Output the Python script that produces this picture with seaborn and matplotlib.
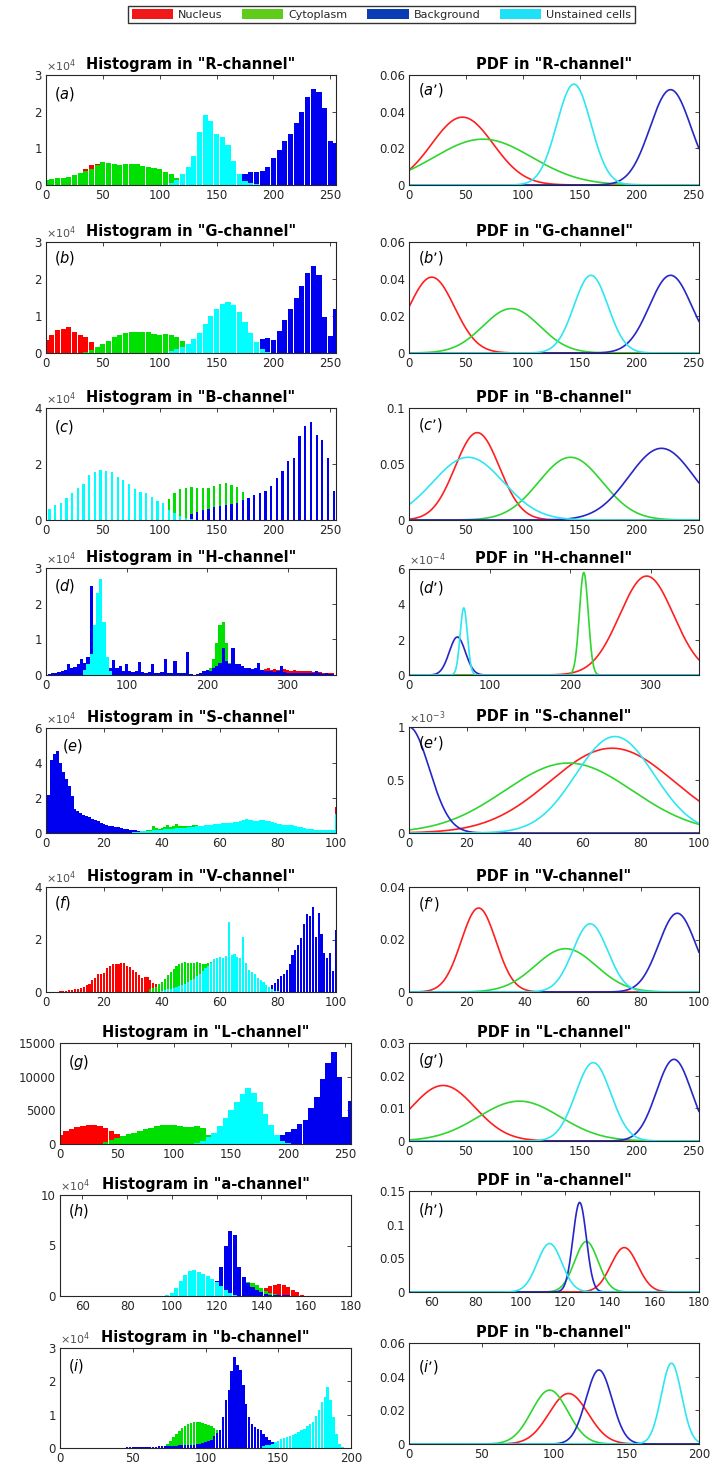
"""
colour-channel histograms and fitted PDFs for the four pixel classes
"""

import matplotlib

matplotlib.use("Agg")
import matplotlib.pyplot as plt
import numpy as np
import pandas as pd
import seaborn as sns
from matplotlib.patches import Patch

sns.set_style("white")
plt.rcParams["font.family"] = ["DejaVu Sans"]
plt.rcParams["mathtext.fontset"] = "dejavusans"

W, H = 713, 1469
INK = "#262626"

CLASSES = ["Nucleus", "Cytoplasm", "Background", "Unstained cells"]
HIST_COLORS = ["#ff0000", "#00e000", "#0000f0", "#00ffff"]
PDF_COLORS = ["#ff1f1f", "#2fd62f", "#2626c8", "#2ee6f2"]
LEGEND_COLORS = ["#f01818", "#5fcc1c", "#0a3cb4", "#1ee1f7"]

# ---- histogram data: (first bin centre, heights) per class, order = CLASSES
# R-channel, 5-wide bins, counts x1e4
R_nuc = (0, [0.1, 0.12, 0.15, 0.18, 0.2, 0.25, 0.32, 0.45, 0.55, 0.58, 0.55, 0.5, 0.45, 0.4,
             0.35, 0.3, 0.25, 0.2, 0.14, 0.08, 0.04, 0.02])
R_cyt = (0, [0.15, 0.16, 0.18, 0.2, 0.22, 0.28, 0.33, 0.38, 0.45, 0.55, 0.62, 0.6, 0.56, 0.55,
             0.57, 0.57, 0.56, 0.53, 0.5, 0.46, 0.43, 0.36, 0.29, 0.2, 0.1, 0.05, 0.02])
R_bg = (165, [0.05, 0.15, 0.3, 0.35, 0.35, 0.38, 0.5, 0.75, 0.95, 1.2, 1.4, 1.7, 2.0, 2.4,
              2.62, 2.55, 2.1, 1.2, 1.15])
R_un = (110, [0.05, 0.15, 0.3, 0.5, 0.8, 1.45, 1.9, 1.75, 1.4, 1.3, 1.1, 0.65, 0.3, 0.12,
              0.05, 0.02])

# G-channel, 5-wide bins, counts x1e4
G_nuc = (0, [0.34, 0.5, 0.61, 0.65, 0.7, 0.57, 0.5, 0.43, 0.3, 0.15, 0.07, 0.02])
G_cyt = (35, [0.03, 0.07, 0.15, 0.25, 0.32, 0.42, 0.5, 0.55, 0.57, 0.57, 0.58, 0.56, 0.52,
              0.5, 0.52, 0.5, 0.42, 0.33, 0.2, 0.1, 0.04])
G_bg = (180, [0.1, 0.3, 0.38, 0.4, 0.35, 0.6, 0.9, 1.2, 1.5, 1.8, 2.15, 2.35, 2.1, 0.97,
              0.45, 1.2])
G_un = (110, [0.05, 0.1, 0.15, 0.25, 0.38, 0.55, 0.78, 1.0, 1.2, 1.33, 1.38, 1.3, 1.12,
              0.85, 0.55, 0.3, 0.12, 0.04])

# B-channel, 5-wide bins, counts x1e4
B_nuc = (23, [0.1, 0.25, 0.4, 0.55, 0.75, 0.95, 1.1, 1.2, 1.25, 1.2, 1.1, 0.95, 0.75, 0.55,
              0.35, 0.2, 0.1])
B_cyt = (103, [0.3, 0.74, 0.95, 1.1, 1.15, 1.17, 1.15, 1.13, 1.15, 1.21, 1.29, 1.31, 1.25,
               1.19, 1.0, 0.8, 0.55, 0.3, 0.1])
B_bg = (128, [0.2, 0.3, 0.35, 0.4, 0.45, 0.5, 0.55, 0.58, 0.62, 0.7, 0.8, 0.9, 0.95, 1.05,
              1.2, 1.5, 1.75, 2.1, 2.2, 3.0, 3.35, 3.5, 3.05, 2.85, 2.2, 1.05, 1.5])
B_un = (3, [0.38, 0.54, 0.62, 0.77, 0.95, 1.13, 1.3, 1.6, 1.73, 1.8, 1.76, 1.7, 1.55, 1.43,
            1.3, 1.1, 1.0, 0.95, 0.83, 0.69, 0.6, 0.36, 0.24, 0.14, 0.08, 0.04])

# H-channel, 4-wide bins, counts x1e4
H_nuc = (244, [0.05, 0.08, 0.1, 0.12, 0.15, 0.2, 0.15, 0.18, 0.2, 0.15, 0.18, 0.15, 0.12,
               0.16, 0.15, 0.12, 0.14, 0.12, 0.1, 0.12, 0.1, 0.1, 0.08, 0.1, 0.08, 0.07,
               0.06, 0.05, 0.05])
H_cyt = (200, [0.1, 0.2, 0.45, 0.9, 1.4, 1.5, 0.9, 0.35, 0.1])
H_bg = (0, [0.0, 0.03, 0.05, 0.06, 0.08, 0.1, 0.15, 0.32, 0.2, 0.22, 0.3, 0.44, 0.35, 0.5,
            2.5, 1.0, 1.0, 1.0, 1.0, 0.4, 0.2, 0.42, 0.2, 0.26, 0.1, 0.32, 0.1, 0.08, 0.1,
            0.36, 0.08, 0.06, 0.08, 0.3, 0.06, 0.05, 0.08, 0.44, 0.06, 0.05, 0.4, 0.06,
            0.05, 0.05, 0.65, 0.02, 0.01, 0.02, 0.05, 0.1, 0.15, 0.12, 0.2, 0.25, 0.35,
            0.75, 0.4, 0.3, 0.77, 0.3, 0.32, 0.25, 0.2, 0.21, 0.18, 0.2, 0.35, 0.15, 0.12,
            0.1, 0.12, 0.08, 0.1, 0.26, 0.08, 0.07, 0.06, 0.06, 0.05, 0.06, 0.05, 0.05,
            0.05, 0.06, 0.12, 0.05, 0.04, 0.05, 0.04, 0.03])
H_un = (48, [0.15, 0.3, 0.6, 1.4, 2.3, 2.7, 1.5, 0.5, 0.1])

# S-channel, 1-wide bins, counts x1e4
S_nuc = (100, [1.5])
S_cyt = (32, [0.05, 0.08, 0.12, 0.15, 0.2, 0.38, 0.3, 0.25, 0.28, 0.32, 0.47, 0.35, 0.4,
              0.53, 0.42, 0.4, 0.38, 0.4, 0.42, 0.44, 0.47, 0.42, 0.4, 0.38, 0.35])
S_bg = (0, [2.1, 2.2, 4.2, 4.5, 4.7, 4.0, 3.5, 3.1, 2.7, 2.1, 1.4, 1.25, 1.15, 1.05, 1.0,
            0.9, 0.8, 0.72, 0.66, 0.58, 0.52, 0.46, 0.42, 0.38, 0.35, 0.32, 0.28, 0.25,
            0.23, 0.2, 0.18, 0.15, 0.12, 0.1, 0.07, 0.05])
S_un = (30, [0.05, 0.06, 0.08, 0.1, 0.11, 0.12, 0.13, 0.15, 0.16, 0.18, 0.2, 0.21, 0.22,
             0.24, 0.25, 0.27, 0.28, 0.3, 0.31, 0.33, 0.34, 0.36, 0.38, 0.4, 0.42, 0.43,
             0.45, 0.48, 0.5, 0.52, 0.53, 0.55, 0.57, 0.6, 0.6, 0.62, 0.65, 0.68, 0.72,
             0.81, 0.75, 0.72, 0.7, 0.68, 0.72, 0.75, 0.7, 0.66, 0.62, 0.58, 0.53, 0.5,
             0.48, 0.46, 0.44, 0.43, 0.4, 0.36, 0.32, 0.3, 0.25, 0.24, 0.22, 0.2, 0.2,
             0.19, 0.18, 0.17, 0.15, 0.16, 1.1])

# V-channel, 1-wide bins, counts x1e4
V_nuc = (5, [0.03, 0.04, 0.05, 0.06, 0.08, 0.1, 0.12, 0.15, 0.2, 0.25, 0.32, 0.45, 0.55,
             0.67, 0.7, 0.72, 0.9, 1.0, 1.05, 1.08, 1.08, 1.1, 1.1, 1.0, 0.95, 0.82, 0.75,
             0.63, 0.55, 0.58, 0.57, 0.45, 0.35, 0.3, 0.2, 0.12, 0.06, 0.03])
V_cyt = (36, [0.1, 0.15, 0.2, 0.3, 0.4, 0.5, 0.63, 0.75, 0.88, 1.0, 1.05, 1.1, 1.14, 1.12,
              1.1, 1.12, 1.14, 1.1, 1.08, 1.08, 1.1, 1.15, 1.2, 1.15, 1.1, 1.0, 0.8, 0.6,
              0.4, 0.2])
V_bg = (74, [0.05, 0.08, 0.12, 0.18, 0.25, 0.35, 0.5, 0.6, 0.7, 0.85, 1.08, 1.4, 1.6, 1.8,
             2.06, 2.6, 2.96, 2.9, 3.25, 2.1, 3.0, 2.2, 1.5, 1.3, 1.5, 0.8, 2.38])
V_un = (40, [0.05, 0.07, 0.1, 0.12, 0.15, 0.18, 0.22, 0.27, 0.32, 0.38, 0.45, 0.5, 0.6, 0.7,
             0.8, 0.9, 1.0, 1.1, 1.25, 1.3, 1.35, 1.3, 1.38, 2.65, 1.4, 1.45, 1.35, 1.3,
             2.1, 1.1, 0.82, 0.75, 0.7, 0.55, 0.45, 0.38, 0.28, 0.18, 0.1, 0.05, 0.02])

# L-channel, 5-wide bins, raw counts
L_nuc = (0, [1300, 1900, 2200, 2500, 2700, 2800, 2850, 2700, 2400, 1900, 1500, 900, 300, 100])
L_cyt = (40, [300, 600, 900, 1200, 1450, 1700, 2000, 2300, 2450, 2600, 2750, 2850, 2750,
              2650, 2550, 2500, 2600, 2400, 1300, 300])
L_bg = (180, [300, 700, 1000, 1400, 1850, 2200, 3000, 3600, 5300, 7000, 9700, 12000, 13600,
              10000, 4000, 6400])
L_un = (120, [200, 500, 1000, 1700, 2700, 3800, 5000, 6300, 7500, 8300, 7600, 6200, 4500,
              2800, 1300, 400, 100])

# a-channel, 2-wide bins, counts x1e4
A_nuc = (134, [0.1, 0.3, 0.5, 0.65, 0.8, 1.0, 1.1, 1.15, 1.05, 0.9, 0.6, 0.35, 0.12, 0.03])
A_cyt = (120, [0.2, 0.4, 0.7, 0.9, 1.1, 1.3, 1.4, 1.4, 1.3, 1.1, 0.8, 0.5, 0.3, 0.15, 0.05])
A_bg = (114, [0.3, 0.6, 0.9, 1.5, 2.9, 5.0, 6.4, 6.0, 2.9, 1.9, 1.3, 0.9, 0.6, 0.4, 0.2,
              0.1, 0.08, 0.06, 0.05, 0.05, 0.04, 0.04, 0.03, 0.03, 0.03, 0.02, 0.02, 0.02,
              0.02, 0.02, 0.01])
A_un = (98, [0.1, 0.3, 0.8, 1.5, 2.1, 2.5, 2.6, 2.4, 2.2, 2.0, 1.7, 1.4, 1.0, 0.6, 0.3, 0.1])

# b-channel, 2-wide bins, counts x1e4
Bb_nuc = (96, [0.1, 0.15, 0.2, 0.25, 0.3, 0.36, 0.42, 0.46, 0.48, 0.48, 0.46, 0.43, 0.4,
               0.35, 0.3, 0.25, 0.2, 0.15, 0.1])
Bb_cyt = (72, [0.05, 0.12, 0.2, 0.32, 0.43, 0.52, 0.6, 0.66, 0.72, 0.75, 0.78, 0.78, 0.77,
               0.75, 0.73, 0.7, 0.65, 0.6, 0.55, 0.48, 0.4, 0.3, 0.2, 0.1, 0.05])
Bb_bg = (46, [0.02, 0.02, 0.02, 0.02, 0.03, 0.03, 0.03, 0.03, 0.04, 0.04, 0.04, 0.05, 0.05,
              0.05, 0.06, 0.06, 0.07, 0.07, 0.08, 0.08, 0.09, 0.09, 0.1, 0.1, 0.11, 0.12,
              0.14, 0.17, 0.2, 0.25, 0.35, 0.45, 0.53, 0.93, 1.43, 1.73, 2.3, 2.73, 2.48,
              2.33, 1.88, 1.33, 0.93, 0.73, 0.63, 0.58, 0.53, 0.43, 0.33, 0.25, 0.18, 0.08,
              0.03])
Bb_un = (140, [0.05, 0.08, 0.1, 0.13, 0.18, 0.22, 0.26, 0.3, 0.33, 0.36, 0.4, 0.43, 0.48,
               0.53, 0.58, 0.65, 0.72, 0.78, 0.95, 1.13, 1.38, 1.53, 1.83, 1.43, 0.93, 0.43,
               0.13, 0.03])

# ---- PDF data: Gaussian mean, sd, peak height per class, order = CLASSES
R_mu, R_sd, R_pk = [47, 65, 230, 145], [27, 43, 18, 15], [0.037, 0.025, 0.052, 0.055]
G_mu, G_sd, G_pk = [20, 90, 230, 160], [20, 25, 18.6, 15], [0.041, 0.024, 0.042, 0.042]
B_mu, B_sd, B_pk = [60, 142, 222, 52], [19.5, 28, 28.7, 31], [0.078, 0.056, 0.064, 0.056]
H_mu, H_sd, H_pk = [295, 217, 60, 68], [33.5, 5.5, 10, 4.5], [5.6, 5.8, 2.15, 3.8]  # x1e-4
S_mu, S_sd, S_pk = [70, 55, 0, 71], [21.5, 22, 7, 13.5], [0.8, 0.66, 1.0, 0.91]  # x1e-3
V_mu, V_sd, V_pk = [24, 54, 92.5, 62.5], [6, 10.5, 6.4, 6], [0.032, 0.0165, 0.030, 0.026]
L_mu, L_sd, L_pk = [30, 97, 233, 162], [28, 36, 15.4, 15.5], [0.017, 0.0122, 0.025, 0.024]
A_mu, A_sd, A_pk = [146.5, 129.5, 126.5, 113], [6, 5.3, 3, 5.5], [0.066, 0.075, 0.133, 0.072]
Bb_mu, Bb_sd, Bb_pk = [110, 97, 131, 181], [13.5, 12.5, 9, 7], [0.030, 0.032, 0.044, 0.048]

# ---- panel options
channels = ["R", "G", "B", "H", "S", "V", "L", "a", "b"]
letters = list("abcdefghi")
hist_series = [
    (R_nuc, R_cyt, R_bg, R_un), (G_nuc, G_cyt, G_bg, G_un), (B_nuc, B_cyt, B_bg, B_un),
    (H_nuc, H_cyt, H_bg, H_un), (S_nuc, S_cyt, S_bg, S_un), (V_nuc, V_cyt, V_bg, V_un),
    (L_nuc, L_cyt, L_bg, L_un), (A_nuc, A_cyt, A_bg, A_un), (Bb_nuc, Bb_cyt, Bb_bg, Bb_un),
]
pdf_params = [
    (R_mu, R_sd, R_pk), (G_mu, G_sd, G_pk), (B_mu, B_sd, B_pk), (H_mu, H_sd, H_pk),
    (S_mu, S_sd, S_pk), (V_mu, V_sd, V_pk), (L_mu, L_sd, L_pk), (A_mu, A_sd, A_pk),
    (Bb_mu, Bb_sd, Bb_pk),
]
bin_step = [5, 5, 5, 4, 1, 1, 5, 2, 2]
bar_shrink = [0.9, 0.9, 0.4, 1.0, 1.0, 0.7, 1.0, 0.9, 0.85]
xlims = [(0, 255)] * 3 + [(0, 360), (0, 100), (0, 100), (0, 255), (50, 180), (0, 200)]
xticks = [np.arange(0, 251, 50)] * 3 + [np.arange(0, 301, 100), np.arange(0, 101, 20),
                                        np.arange(0, 101, 20), np.arange(0, 251, 50),
                                        np.arange(60, 181, 20), np.arange(0, 201, 50)]
hist_ymax = [3, 3, 4, 3, 6, 4, 15000, 10, 3]
hist_yticks = [[0, 1, 2, 3], [0, 1, 2, 3], [0, 2, 4], [0, 1, 2, 3], [0, 2, 4, 6], [0, 2, 4],
               [0, 5000, 10000, 15000], [0, 5, 10], [0, 1, 2, 3]]
hist_exp = ["4", "4", "4", "4", "4", "4", None, "4", "4"]
pdf_ymax = [0.06, 0.06, 0.1, 6, 1, 0.04, 0.03, 0.15, 0.06]
pdf_yticks = [[0, 0.02, 0.04, 0.06], [0, 0.02, 0.04, 0.06], [0, 0.05, 0.1], [0, 2, 4, 6],
              [0, 0.5, 1], [0, 0.02, 0.04], [0, 0.01, 0.02, 0.03], [0, 0.05, 0.1, 0.15],
              [0, 0.02, 0.04, 0.06]]
pdf_exp = [None, None, None, "-4", "-3", None, None, None, None]

# axes boxes in pixels: (left, top, right, bottom)
left_boxes = [(46, 75, 336, 185), (46, 242, 336, 353), (46, 408, 336, 520),
              (46, 568, 336, 675), (46, 728, 336, 833), (46, 887, 336, 992),
              (60, 1043, 351, 1144), (60, 1195, 351, 1296), (60, 1348, 351, 1448)]
right_boxes = [(409, 75, 699, 185), (409, 242, 699, 353), (409, 408, 699, 520),
               (409, 569, 699, 675), (409, 727, 699, 833), (409, 887, 699, 992),
               (409, 1043, 699, 1141), (409, 1191, 699, 1292), (409, 1343, 699, 1444)]
left_tag_pos = [(8, 19), (8, 16), (8, 19), (8, 18), (16, 18), (8, 16), (8, 20), (8, 16), (8, 18)]
right_tag_pos = [(9, 15), (9, 16), (9, 17), (9, 19), (9, 16), (9, 17), (9, 17), (9, 19), (9, 24)]

fig = plt.figure(figsize=(W / 100, H / 100), dpi=100)


def make_axes(box):
    l, t, r, b = box
    return fig.add_axes([l / W, 1 - b / H, (r - l) / W, (b - t) / H])


def style_axes(ax, xlim, xt, ymax, yt, exp, title, tag, tag_xy):
    ax.set_xlim(*xlim)
    ax.set_ylim(0, ymax)
    ax.set_xticks(xt)
    ax.set_xticklabels([f"{v:g}" for v in xt])
    ax.set_yticks(yt)
    ax.set_yticklabels([f"{v:g}" for v in yt])
    ax.set_xlabel("")
    ax.set_ylabel("")
    ax.tick_params(direction="in", top=True, right=True, length=3, width=0.6,
                   colors=INK, labelsize=8.5, pad=3)
    for sp in ax.spines.values():
        sp.set_visible(True)
        sp.set_color(INK)
        sp.set_linewidth(0.8)
    ax.set_title(title, fontsize=10.5, fontweight="bold", pad=4, color="black")
    if exp is not None:
        ax.text(0.0, 1.01, r"$\times10^{%s}$" % exp, transform=ax.transAxes,
                ha="left", va="bottom", fontsize=8, color="#505050")
    ax.text(tag_xy[0], tag_xy[1], tag, transform=ax.transAxes, ha="left", va="center",
            fontsize=10.5, color="black")


for i, ch in enumerate(channels):
    # histogram panel
    ax = make_axes(left_boxes[i])
    step = bin_step[i]
    for k, (start, heights) in enumerate(hist_series[i]):
        centers = start + step * np.arange(len(heights))
        df = pd.DataFrame({"value": centers, "count": heights})
        sns.histplot(data=df, x="value", weights="count", binwidth=step,
                     binrange=(centers[0] - step / 2, centers[-1] + step / 2), ax=ax,
                     color=HIST_COLORS[k], alpha=1, linewidth=0, edgecolor="none",
                     shrink=bar_shrink[i])
    lb = left_boxes[i]
    tx = left_tag_pos[i][0] / (lb[2] - lb[0])
    ty = 1 - left_tag_pos[i][1] / (lb[3] - lb[1])
    style_axes(ax, xlims[i], xticks[i], hist_ymax[i], hist_yticks[i], hist_exp[i],
               f'Histogram in "{ch}-channel"', r"($\mathit{%s}$)" % letters[i], (tx, ty))

    # pdf panel
    ax = make_axes(right_boxes[i])
    mu, sd, pk = pdf_params[i]
    xs = np.linspace(xlims[i][0], xlims[i][1], 800)
    for k in range(4):
        ys = pk[k] * np.exp(-0.5 * ((xs - mu[k]) / sd[k]) ** 2)
        sns.lineplot(x=xs, y=ys, ax=ax, color=PDF_COLORS[k], linewidth=1.2)
    rb = right_boxes[i]
    tx = right_tag_pos[i][0] / (rb[2] - rb[0])
    ty = 1 - right_tag_pos[i][1] / (rb[3] - rb[1])
    style_axes(ax, xlims[i], xticks[i], pdf_ymax[i], pdf_yticks[i], pdf_exp[i],
               f'PDF in "{ch}-channel"', r"($\mathit{%s}$’)" % letters[i], (tx, ty))

handles = [Patch(facecolor=c, edgecolor="none", label=n) for c, n in zip(LEGEND_COLORS, CLASSES)]
leg = fig.legend(handles=handles, loc="upper center", bbox_to_anchor=(381.5 / W, 1 - 6 / H),
                 ncol=4, fontsize=8, frameon=True, fancybox=False, edgecolor="black",
                 handlelength=3.7, handleheight=1.0, handletextpad=0.45, columnspacing=1.8,
                 borderpad=0.3, borderaxespad=0)
leg.get_frame().set_linewidth(1.0)

fig.savefig("out.png", dpi=100)
